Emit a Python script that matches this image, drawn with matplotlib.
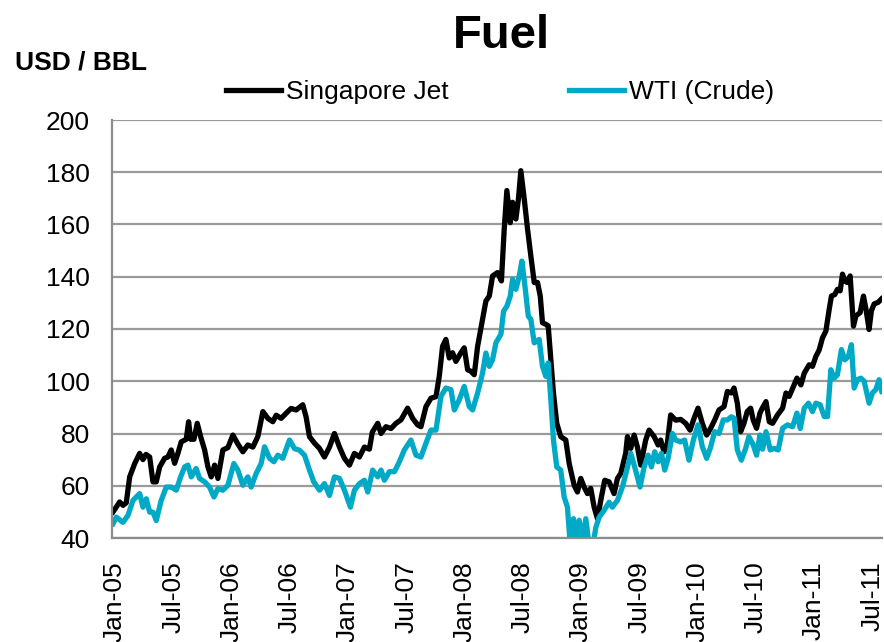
import numpy as np
import matplotlib
matplotlib.use('Agg')
import matplotlib.pyplot as plt

plt.rcParams['font.family'] = ['Liberation Sans', 'DejaVu Sans']

# months since Jan-2005, price in USD / BBL
jet_t = [-0.2, 0.48, 0.82, 1.16, 1.51, 2.03, 2.54, 2.88, 3.19, 3.57, 3.91, 4.25, 4.60,
         5.11, 5.45, 5.79, 6.14, 6.48, 6.82, 7.34, 7.58, 7.79, 8.13, 8.47, 8.82, 9.23,
         9.57, 9.91, 10.26, 10.60, 11.11, 11.63, 12.14, 12.65, 13.17, 13.68, 14.2, 14.71,
         15.23, 15.74, 16.26, 16.6, 17.11, 17.80, 18.14, 18.65, 19.34, 19.68, 20.03,
         20.55, 21.06, 21.57, 22.09, 22.6, 23.12, 23.63, 24.15, 24.66, 25.17, 25.69,
         26.2, 26.5, 27.06, 27.4, 27.91, 28.43, 28.94, 29.45, 30.14, 30.66, 31.17, 31.51,
         32.03, 32.54, 33.06, 33.4, 33.74, 34.08, 34.43, 34.77, 35.11, 35.63, 35.97,
         36.32, 36.66, 37.0, 37.35, 37.86, 38.2, 38.55, 38.89, 39.4, 39.8, 40.09, 40.36,
         40.71, 40.95, 41.29, 41.56, 41.8, 42.15, 42.49, 42.83, 43.18, 43.52, 43.80,
         44.03, 44.37, 44.62, 44.89, 45.16, 45.5, 45.91, 46.43, 46.78, 47.29, 47.63,
         47.97, 48.32, 48.66, 49.0, 49.35, 49.69, 50.1, 50.44, 50.89, 51.4, 51.75, 52.09,
         52.6, 52.78, 53.12, 53.47, 53.81, 54.15, 54.66, 55.01, 55.53, 55.94, 56.2, 56.55,
         56.89, 57.23, 57.75, 58.26, 58.78, 59.23, 59.64, 60.05, 60.49, 60.94, 61.35,
         61.76, 62.21, 62.73, 63.07, 63.48, 63.76, 64.1, 64.44, 64.78, 65.12, 65.47,
         65.74, 66.08, 66.43, 66.67, 67.05, 67.39, 67.73, 68.24, 68.76, 69.11, 69.44,
         69.89, 70.24, 70.65, 70.99, 71.5, 71.84, 72.19, 72.53, 72.87, 73.22, 73.56,
         73.79, 74.14, 74.41, 74.69, 74.93, 75.17, 75.41, 75.72, 76.06, 76.31, 76.75,
         77.09, 77.33, 77.67, 77.91, 78.19, 78.6, 78.94]
jet_v = [50, 53.8, 52.5, 53.5, 63.4, 68.5, 72.4, 70, 72, 71, 61.5, 61.5, 67.2,
         70.5, 71, 73.7, 68.6, 72.4, 76.8, 77.8, 84.5, 77.8, 77.8, 83.9, 78.8, 73.7,
         67.2, 63.4, 67.9, 62.8, 73.7, 74.6, 79.4, 76, 73, 75.6, 74.8, 78.8,
         88.4, 85.8, 84.5, 87, 85.8, 88.4, 89.6, 89, 91, 86.4, 78.8,
         76.3, 74.3, 71, 74.8, 80, 74.8, 70.5, 67.9, 72.4, 71, 74.8,
         74, 80.5, 83.9, 80, 82.6, 81.9, 83.9, 85.2, 89.7, 85.8, 83.3, 82.6,
         90.3, 93.5, 94.1, 101.9, 113.4, 116, 108.9, 110.9, 107.6, 110.9, 112.8,
         104.4, 103.8, 102.5, 113.4, 123.7, 130.7, 132.6, 140.3, 141.6, 138.4, 158.3, 173,
         160.7, 168.5, 162.1, 170, 180.6, 169.8, 158.3, 148, 137.8, 137.8, 132.6,
         122.4, 121.8, 121.2, 108.3, 95.5, 83.9, 78.8, 77.5, 68.5, 60.2, 57.6,
         62.8, 59.5, 57, 59, 51.8, 47.4, 55.7, 62.1, 61.5, 57, 62.8, 64.7,
         72.4, 78.8, 74.3, 79.4, 74.8, 67.9, 77.5, 81.3, 78.8, 75.6, 77.5, 73,
         76.2, 87.1, 85.1, 85.4, 83.9, 81.3, 85.8, 89.7, 83.9, 79.4, 82,
         85.1, 89, 90.3, 96.1, 95.5, 97.4, 91.6, 80.7, 83.9, 88.4, 89.7,
         85.1, 82, 87.8, 89.7, 92.2, 84.5, 83.9, 87.1, 89.7, 95.5, 94.2,
         98.1, 101.2, 98.6, 103.1, 106.3, 105.7, 109.5, 112, 116.6, 119.2, 127.5,
         132.6, 133.2, 135.2, 134.6, 141, 138.4, 137.8, 140.3, 121.1, 125, 126.3,
         132.6, 128, 119.8, 127, 129.6, 130.2, 131.5]

wti_t = [-0.2, 0.13, 0.82, 1.34, 1.85, 2.54, 2.88, 3.22, 3.57, 3.91, 4.25, 4.76, 5.28,
         5.79, 6.31, 6.76, 7.17, 7.51, 7.85, 8.36, 8.71, 9.23, 9.74, 10.19, 10.6, 11.11,
         11.63, 12.24, 12.65, 13.17, 13.68, 14.02, 14.54, 15.05, 15.4, 15.92, 16.36,
         16.77, 17.28, 17.97, 18.49, 19.0, 19.52, 20.03, 20.47, 21.06, 21.57, 22.09,
         22.6, 23.12, 23.63, 24.25, 24.66, 25.17, 25.69, 26.03, 26.54, 27.06, 27.4,
         27.75, 28.26, 28.78, 29.29, 29.8, 30.48, 31.0, 31.51, 32.03, 32.54, 33.06,
         33.57, 34.08, 34.6, 34.95, 35.46, 35.97, 36.49, 36.83, 37.35, 37.86, 38.2,
         38.55, 38.89, 39.23, 39.75, 40.02, 40.36, 40.71, 40.95, 41.29, 41.64, 41.91,
         42.22, 42.57, 42.83, 43.18, 43.69, 44.03, 44.37, 44.62, 44.89, 45.16, 45.5,
         45.91, 46.26, 46.6, 46.88, 47.22, 47.53, 47.81, 48.15, 48.49, 48.84, 49.18,
         49.52, 49.87, 50.38, 50.89, 51.23, 51.75, 52.26, 52.78, 53.12, 53.53, 54.08,
         54.5, 54.91, 55.25, 55.59, 55.94, 56.28, 56.62, 56.97, 57.41, 57.75, 58.26,
         58.67, 59.12, 59.57, 60.05, 60.49, 60.94, 61.35, 61.76, 62.21, 62.65, 63.07,
         63.48, 63.76, 64.1, 64.51, 64.95, 65.29, 65.74, 66.08, 66.43, 66.7, 67.05,
         67.49, 67.9, 68.31, 68.76, 69.27, 69.79, 70.24, 70.58, 70.99, 71.43, 71.84,
         72.19, 72.63, 73.05, 73.39, 73.73, 74.07, 74.41, 74.82, 75.17, 75.54, 75.85,
         76.13, 76.47, 76.82, 77.16, 77.67, 78.01, 78.36, 78.7, 78.98]
wti_v = [45.5, 48, 46, 48.7, 54.4, 57, 51.8, 55, 49.9, 49.9, 46.7, 54.4, 59.5,
         59.5, 58.3, 63.4, 67.2, 67.9, 63.4, 66.6, 62.8, 61.5, 59.5, 55.7, 58.9, 58.3,
         60.2, 68.5, 66, 60.2, 63.4, 59.5, 64.7, 68.5, 74.9, 70.5, 69.2,
         71.7, 70.5, 77.5, 74.2, 73.6, 71.7, 66, 61.5, 58.3, 60.8, 56.3,
         63.4, 62.8, 58.3, 51.8, 58.3, 60.8, 62.1, 57.6, 66, 63.4, 66,
         62.1, 65.4, 65.4, 69.2, 73.7, 77.5, 71.7, 71, 76.3, 81.3, 81.3,
         94.2, 97.4, 96.8, 89, 92.9, 98, 90.3, 89, 95.5, 103.2, 110.8,
         105.7, 108.3, 114.7, 118, 126.8, 128.7, 132.6, 139, 135.2, 140.3, 146,
         136.5, 124.9, 123.7, 114.7, 116, 105.7, 101.9, 107, 92.9, 77.5, 67.2,
         66, 55.7, 51.8, 38, 47.4, 38, 46.8, 38, 47.4, 37, 36,
         44, 48, 50.6, 53.7, 51.8, 54.4, 59.5, 67, 72.4, 67.2, 59.5,
         67.2, 71.7, 67.2, 73, 69.2, 72.4, 66, 70.5, 80, 77.5, 76.8,
         77.5, 69.8, 77.5, 83.3, 75, 70.5, 74.8, 80.7, 80, 85.2, 85.2,
         86.4, 85.8, 73.7, 69.8, 74.2, 78.8, 75.6, 71.7, 79.4, 74, 80.7,
         73.7, 74.3, 73.7, 82, 83.3, 82.6, 87.8, 81.9, 89.7, 91.6, 88.4,
         91.6, 91, 86.5, 86.5, 104.4, 101.2, 102.5, 112.1, 108.2, 109.5, 114,
         97.4, 100.6, 101.2, 100, 91.6, 95.5, 96.8, 100.6, 96.1]

tick_months = [0, 6, 12, 18, 24, 30, 36, 42, 48, 54, 60, 66, 72, 78]
tick_labels = ['Jan-05', 'Jul-05', 'Jan-06', 'Jul-06', 'Jan-07', 'Jul-07', 'Jan-08',
               'Jul-08', 'Jan-09', 'Jul-09', 'Jan-10', 'Jul-10', 'Jan-11', 'Jul-11']

JET_C = 'black'
WTI_C = '#00A9C5'
GRID_C = '#9A9A9A'

fig = plt.figure(figsize=(8.84, 6.42), dpi=100)
ax = fig.add_axes([112/884, 1 - 538/642, (882 - 112)/884, (538 - 120)/642])

ax.plot(jet_t, jet_v, color=JET_C, lw=3.8, solid_joinstyle='round', label='Singapore Jet')
ax.plot(wti_t, wti_v, color=WTI_C, lw=3.8, solid_joinstyle='round', label='WTI (Crude)')

ax.set_ylim(40, 200)
ax.set_xlim(-0.31, 79.0)
ax.set_yticks(np.arange(40, 201, 20))
ax.set_xticks(tick_months)
ax.set_xticklabels(tick_labels, rotation=90)
ax.tick_params(axis='both', length=0, labelsize=19)
ax.tick_params(axis='y', pad=16)
ax.tick_params(axis='x', pad=17)

ax.grid(axis='y', color=GRID_C, lw=1.6)
ax.set_axisbelow(True)
for s in ['top', 'right']:
    ax.spines[s].set_visible(False)
for s in ['left', 'bottom']:
    ax.spines[s].set_color('#8C8C8C')
    ax.spines[s].set_linewidth(1.6)

fig.text(501/884, 1 - 48/642, 'Fuel', ha='center', va='baseline',
         fontsize=34, fontweight='bold')
fig.text(15/884, 1 - 70/642, 'USD / BBL', ha='left', va='baseline',
         fontsize=19, fontweight='bold')

fig.legend(loc='center', bbox_to_anchor=(500/884, 1 - 92/642), ncol=2,
           frameon=False, fontsize=19, handlelength=2.08, handletextpad=0.19,
           columnspacing=4.55, borderpad=0)

fig.savefig('out.png', dpi=100)
